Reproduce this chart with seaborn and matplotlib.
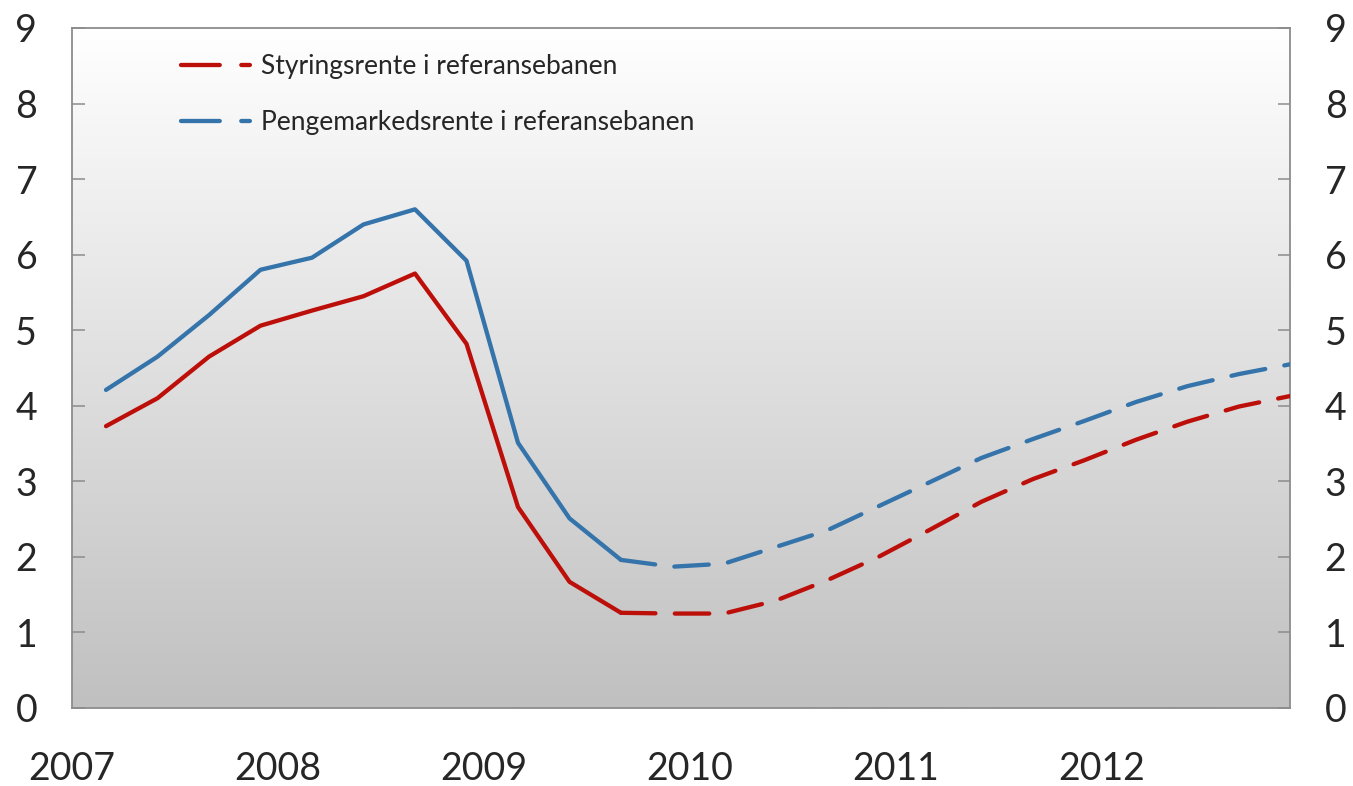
import numpy as np
import pandas as pd
import seaborn as sns
import matplotlib.pyplot as plt
from matplotlib.colors import LinearSegmentedColormap
from matplotlib.lines import Line2D

# Quarterly observations 2007 Q1 - 2012 Q4
years = [2007, 2008, 2009, 2010, 2011, 2012]
quarters = [f"{y}Q{q}" for y in years for q in range(1, 5)]

styringsrente = [3.73, 4.10, 4.65, 5.06, 5.26, 5.45, 5.75, 4.82, 2.66, 1.67,
                 1.26, 1.25, 1.25, 1.42, 1.69, 2.00, 2.36, 2.73, 3.03, 3.28,
                 3.55, 3.79, 3.99, 4.13]
pengemarked = [4.21, 4.65, 5.20, 5.80, 5.96, 6.40, 6.60, 5.92, 3.51, 2.51,
               1.96, 1.87, 1.91, 2.13, 2.35, 2.67, 2.99, 3.31, 3.56, 3.80,
               4.05, 4.26, 4.42, 4.55]
last_actual = "2009Q3"  # solid up to here, dashed afterwards

series_names = ["Styringsrente i referansebanen",
                "Pengemarkedsrente i referansebanen"]
colors = ["#bd0f0a", "#3574aa"]


def quarter_pos(label):
    y, q = label.split("Q")
    return int(y) + (int(q) - 1) / 4 + 0.165


def build_frame():
    rows = []
    cut = quarters.index(last_actual)
    for name, vals in zip(series_names, [styringsrente, pengemarked]):
        for i, (qq, v) in enumerate(zip(quarters, vals)):
            if i <= cut:
                rows.append((quarter_pos(qq), v, name, "hist"))
            if i >= cut:
                rows.append((quarter_pos(qq), v, name, "proj"))
    return pd.DataFrame(rows, columns=["x", "value", "series", "phase"])


def plot_rates():
    sns.set_style("white")
    plt.rcParams["font.family"] = ["Lato", "DejaVu Sans"]
    plt.rcParams["font.weight"] = "normal"
    text_col = "#262626"

    fig = plt.figure(figsize=(13.53, 7.86), dpi=100)
    ax = fig.add_axes([72 / 1353, 78 / 786, 1218 / 1353, 680 / 786])

    xmin, xmax = 2007, 2007 + 1218 / 206
    ax.set_xlim(xmin, xmax)
    ax.set_ylim(0, 9)

    # grey gradient background: grey at the bottom, white at the top
    grad = np.linspace(0, 1, 256).reshape(-1, 1)
    bg = LinearSegmentedColormap.from_list("bg", ["#c0c0c0", "#ffffff"])
    ax.imshow(grad, extent=[xmin, xmax, 0, 9], aspect="auto", cmap=bg,
              origin="lower", zorder=0)

    df = build_frame()
    palette = dict(zip(series_names, colors))
    sns.lineplot(data=df, x="x", y="value", hue="series", style="phase",
                 palette=palette, dashes={"hist": "", "proj": (8, 4.5)},
                 linewidth=3.1, estimator=None, sort=False, legend=False,
                 ax=ax, zorder=3)
    for ln in ax.get_lines():
        ln.set_solid_capstyle("round")
        ln.set_dash_capstyle("round")
        ln.set_solid_joinstyle("round")

    # legend: solid piece followed by a dash
    handles = []
    for c in colors:
        h = Line2D([], [], color=c, linewidth=3.1, dashes=(9, 5, 2, 60))
        h.set_dash_capstyle("round")
        handles.append(h)
    leg = ax.legend(handles, series_names, loc="upper left",
                    bbox_to_anchor=(0.070, 0.996), frameon=False, fontsize=19,
                    handlelength=3.0, handletextpad=0.05, labelspacing=1.15)
    for t in leg.get_texts():
        t.set_color(text_col)

    # axes styling
    ax.set_yticks(range(0, 10))
    ax.set_xticks(years)
    ax.set_xticklabels([str(y) for y in years])
    ax.set_xlabel("")
    ax.set_ylabel("")
    for s in ax.spines.values():
        s.set_color("#8c8c8c")
        s.set_linewidth(1.3)
        s.set_visible(True)
    ax.tick_params(axis="y", direction="in", length=9, width=1.1,
                   color="#8c8c8c", labelsize=27, labelcolor=text_col,
                   left=True, right=True, labelleft=True, labelright=True)
    ax.tick_params(axis="x", direction="in", length=9, width=1.1,
                   color="#8c8c8c", labelsize=27, pad=31, labelcolor=text_col)
    for t in ax.yaxis.get_major_ticks():
        t.set_pad(25)

    fig.savefig("out.png", dpi=100, facecolor="white")


if __name__ == "__main__":
    plot_rates()
